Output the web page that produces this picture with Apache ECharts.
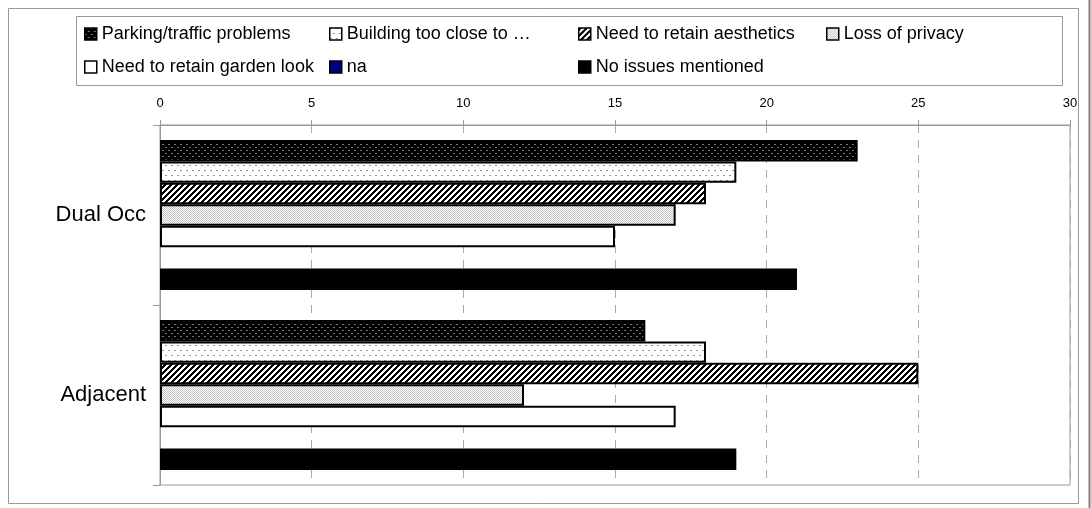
<!DOCTYPE html>
<html>
<head>
<meta charset="utf-8">
<script src="https://cdn.jsdelivr.net/npm/echarts@6/dist/echarts.min.js"></script>
<style>
  html, body { margin: 0; padding: 0; background: #fff; }
  #chart { width: 1091px; height: 508px; }
</style>
</head>
<body>
<div id="chart"></div>
<script>
// Categories (top to bottom) and series values
const categories = ['Dual Occ', 'Adjacent'];
const seriesNames = [
  'Parking/traffic problems',
  'Building too close to …',
  'Need to retain aesthetics',
  'Loss of privacy',
  'Need to retain garden look',
  'na',
  'No issues mentioned'
];
const parkingTraffic = [23, 16];
const buildingTooClose = [19, 18];
const retainAesthetics = [18, 25];
const lossOfPrivacy = [17, 12];
const retainGarden = [15, 17];
const naValues = [0, 0];
const noIssues = [21, 19];
const xTicks = { min: 0, max: 30, interval: 5 };

// Small repeating tiles used as hatch fills
function makeTile(w, h, painter) {
  const c = document.createElement('canvas');
  c.width = w; c.height = h;
  const ctx = c.getContext('2d');
  const img = ctx.createImageData(w, h);
  for (let y = 0; y < h; y++) {
    for (let x = 0; x < w; x++) {
      const v = painter(x, y);
      const i = (y * w + x) * 4;
      img.data[i] = v; img.data[i + 1] = v; img.data[i + 2] = v; img.data[i + 3] = 255;
    }
  }
  ctx.putImageData(img, 0, 0);
  return { image: c, repeat: 'repeat' };
}

// dark with grey flecks
const darkDots = makeTile(6, 6, (x, y) => {
  if ((y === 0 && (x === 0 || x === 1)) || (y === 3 && (x === 3 || x === 4))) return 120;
  return 0;
});
// white with sparse grey flecks
const lightDots = makeTile(6, 10, (x, y) => {
  if ((y === 0 && (x === 0 || x === 1)) || (y === 5 && (x === 3 || x === 4))) return 150;
  return 255;
});
// forward diagonal hatch
const diagHatch = makeTile(6, 6, (x, y) => (((x + y) % 6) < 3 ? 0 : 255));
// fine grey stipple
const stipple = makeTile(2, 2, (x, y) => ((x + y) % 2 === 0 ? 195 : 255));

const fills = [darkDots, lightDots, diagHatch, stipple, '#ffffff', '#000080', '#000000'];
const values = [parkingTraffic, buildingTooClose, retainAesthetics, lossOfPrivacy, retainGarden, naValues, noIssues];

const font = "'Liberation Sans', Arial, sans-serif";

const series = seriesNames.map((name, i) => ({
  name: name,
  type: 'bar',
  data: values[i],
  barGap: '0%',
  barCategoryGap: '16.7%',
  itemStyle: {
    color: fills[i],
    borderColor: '#000',
    borderWidth: i === 5 ? 0 : 2
  },
  emphasis: { disabled: true },
  animation: false
}));

// Legend laid out on a 4-column grid
const legendSlots = [
  [84, 34], [329, 34], [578, 34], [826, 34],
  [84, 67], [329, 67], [578, 67]
];
const legends = seriesNames.map((name, i) => ({
  data: [name],
  left: legendSlots[i][0],
  top: legendSlots[i][1] - 10,
  padding: 0,
  itemWidth: 12,
  itemHeight: 12,
  itemGap: 0,
  itemStyle: { borderColor: '#000', borderWidth: 1.5 },
  icon: 'rect',
  selectedMode: false,
  textStyle: { fontFamily: font, fontSize: 18, color: '#000', lineHeight: 20 }
}));

const chart = echarts.init(document.getElementById('chart'), null, { renderer: 'canvas' });
chart.setOption({
  backgroundColor: '#fff',
  animation: false,
  graphic: [
    { type: 'rect', shape: { x: 8.5, y: 8.5, width: 1070, height: 495 }, style: { fill: 'none', stroke: '#999', lineWidth: 1 }, z: -1 },
    { type: 'rect', shape: { x: 76.5, y: 16.5, width: 986, height: 69 }, style: { fill: 'none', stroke: '#999', lineWidth: 1 }, z: -1 },
    { type: 'line', shape: { x1: 1089.5, y1: 0, x2: 1089.5, y2: 508 }, style: { stroke: '#808080', lineWidth: 2 }, z: -1 }
  ],
  legend: legends,
  grid: {
    left: 160, top: 125, right: 21, bottom: 23,
    show: true, borderColor: '#999', borderWidth: 1
  },
  xAxis: {
    type: 'value',
    position: 'top',
    min: xTicks.min, max: xTicks.max, interval: xTicks.interval,
    axisLine: { show: true, lineStyle: { color: '#999' } },
    axisTick: { show: true, length: 5, lineStyle: { color: '#999' } },
    axisLabel: { fontFamily: font, fontSize: 13, color: '#000', margin: 15 },
    splitLine: { show: true, lineStyle: { color: '#aaa', type: [8, 7], width: 1 } }
  },
  yAxis: {
    type: 'category',
    data: categories,
    inverse: true,
    axisLine: { show: true, lineStyle: { color: '#999' } },
    axisTick: { show: true, length: 7, lineStyle: { color: '#999' } },
    axisLabel: { fontFamily: font, fontSize: 22, color: '#000', margin: 14 }
  },
  series: series
});
</script>
</body>
</html>
